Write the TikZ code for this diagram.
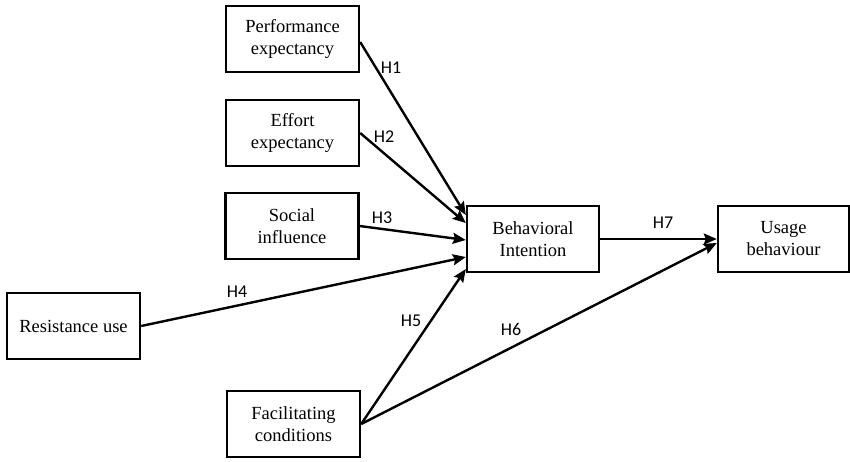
\documentclass[tikz,border=0pt]{standalone}
\usepackage{fontspec}
\setmainfont{Liberation Serif}
\newfontfamily\labfont{Carlito}
\usetikzlibrary{arrows.meta,calc}
\begin{document}
\begin{tikzpicture}[x=1pt,y=-1pt,
  box/.style={draw,line width=2.4pt,minimum width=133pt,minimum height=66pt,align=center,inner sep=2pt,
    font=\fontsize{18.5}{22}\selectfont},
  conn/.style={line width=2.4pt,-{Stealth[length=13pt,width=11pt,inset=2pt]}},
  hlab/.style={font=\labfont\fontsize{18}{19}\selectfont,inner sep=0pt}]
\useasboundingbox (0,0) rectangle (850,461);
\node[box] (pe) at (292.5,39) {Performance\\expectancy};
\node[box] (ee) at (292.5,133) {Effort\\expectancy};
\node[box] (si) at (292,226) {Social\\influence};
\node[box] (ru) at (73.5,326) {Resistance use};
\node[box] (fc) at (293.5,424) {Facilitating\\conditions};
\node[box,minimum width=132pt] (bi) at (533,239) {Behavioral\\Intention};
\node[box,minimum width=131pt] (ub) at (783.5,239) {Usage\\behaviour};
\draw[conn] ($(pe.east)+(0,3)$) -- ($(bi.west)+(0,-24)$);
\draw[conn] (ee.east) -- ($(bi.west)+(0,-16)$);
\draw[conn] (si.east) -- ($(bi.west)+(0,1)$);
\draw[conn] (ru.east) -- ($(bi.west)+(0,18)$);
\draw[conn] (fc.east) -- ($(bi.west)+(0,30)$);
\draw[conn] (fc.east) -- ($(ub.west)+(0,4)$);
\draw[conn] (bi.east) -- (ub.west);
\node[hlab] (h1) at (391,68) {H1};
\node[hlab] (h2) at (384,137) {H2};
\node[hlab] (h3) at (382,218) {H3};
\node[hlab] (h4) at (237,292) {H4};
\node[hlab] (h5) at (411,321) {H5};
\node[hlab] (h6) at (511,329) {H6};
\node[hlab] (h7) at (663,223) {H7};
\end{tikzpicture}
\end{document}
